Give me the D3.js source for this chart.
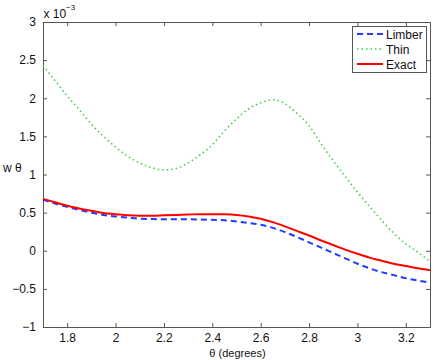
<!DOCTYPE html>
<html>
<head>
<meta charset="utf-8">
<script src="https://cdn.jsdelivr.net/npm/d3@7"></script>
<style>
  body { margin: 0; background: #fff; }
  text { font-family: "Liberation Sans", Arial, sans-serif; fill: #111; }
</style>
</head>
<body>
<svg id="chart" width="436" height="360"></svg>
<script>
// theta values (degrees) and w(theta) in units of 1e-3
const theta = [1.70,1.75,1.80,1.85,1.90,1.95,2.00,2.05,2.10,2.15,2.20,2.25,2.30,2.35,2.40,2.45,2.50,
               2.55,2.60,2.65,2.70,2.75,2.80,2.85,2.90,2.95,3.00,3.05,3.10,3.15,3.20,3.25,3.30];
const limber = [0.67,0.62,0.575,0.535,0.50,0.47,0.45,0.435,0.42,0.415,0.413,0.413,0.413,0.41,0.405,0.40,0.385,
                0.365,0.34,0.30,0.245,0.18,0.11,0.04,-0.03,-0.10,-0.17,-0.23,-0.28,-0.32,-0.36,-0.39,-0.42];
const thin = [2.43,2.23,2.03,1.85,1.66,1.50,1.36,1.24,1.15,1.09,1.06,1.08,1.15,1.26,1.39,1.57,1.73,
              1.86,1.94,1.98,1.93,1.80,1.64,1.40,1.18,0.97,0.77,0.58,0.40,0.23,0.09,-0.02,-0.14];
const exact = [0.68,0.635,0.59,0.555,0.525,0.495,0.48,0.465,0.46,0.46,0.465,0.47,0.475,0.48,0.48,0.478,0.47,
               0.45,0.42,0.375,0.32,0.26,0.20,0.135,0.075,0.015,-0.04,-0.09,-0.13,-0.17,-0.20,-0.23,-0.255];

const xTicks = [1.8, 2, 2.2, 2.4, 2.6, 2.8, 3, 3.2];
const yTicks = [-1, -0.5, 0, 0.5, 1, 1.5, 2, 2.5, 3];
const seriesNames = ["Limber", "Thin", "Exact"];

const svg = d3.select("#chart");
const m = {left: 43, right: 430, top: 22, bottom: 327};

const x = d3.scaleLinear().domain([1.7, 3.3]).range([m.left, m.right]);
const y = d3.scaleLinear().domain([-1, 3]).range([m.bottom, m.top]);

const axisColor = "#555";
const fmt = v => (v < 0 ? "\u2212" : "") + Math.abs(v);

// axes (MATLAB box style, ticks inward on all sides)
const bottomAxis = d3.axisBottom(x).tickValues(xTicks).tickSizeInner(-4).tickSizeOuter(0).tickPadding(6).tickFormat(fmt);
const leftAxis = d3.axisLeft(y).tickValues(yTicks).tickSizeInner(-4).tickSizeOuter(0).tickPadding(7).tickFormat(fmt);
const topAxis = d3.axisTop(x).tickValues(xTicks).tickSizeInner(-4).tickSizeOuter(0).tickFormat("");
const rightAxis = d3.axisRight(y).tickValues(yTicks).tickSizeInner(-4).tickSizeOuter(0).tickFormat("");

function styleAxis(g) {
  g.select(".domain").attr("stroke", axisColor);
  g.selectAll(".tick line").attr("stroke", axisColor);
  g.selectAll(".tick text").style("font-size", "12px").attr("fill", "#222");
}

svg.append("g").attr("transform", `translate(0,${m.bottom})`).call(bottomAxis).call(styleAxis);
svg.append("g").attr("transform", `translate(${m.left},0)`).call(leftAxis).call(styleAxis);
svg.append("g").attr("transform", `translate(0,${m.top})`).call(topAxis).call(styleAxis);
svg.append("g").attr("transform", `translate(${m.right},0)`).call(rightAxis).call(styleAxis);

// lines
const line = vals => d3.line()
  .x((d, i) => x(theta[i]))
  .y(d => y(d))
  .curve(d3.curveMonotoneX)(vals);

const styles = [
  {data: limber, color: "#1f3cff", width: 2, dash: "6,4"},
  {data: thin,   color: "#3ccc3c", width: 1.5, dash: "1.5,3"},
  {data: exact,  color: "#ff0000", width: 2, dash: null}
];

styles.forEach(s => {
  svg.append("path")
    .attr("d", line(s.data))
    .attr("fill", "none")
    .attr("stroke", s.color)
    .attr("stroke-width", s.width)
    .attr("stroke-dasharray", s.dash);
});

// legend
const lg = svg.append("g").attr("transform", "translate(352,26)");
lg.append("rect").attr("x", 0.5).attr("y", 0.5).attr("width", 74).attr("height", 46)
  .attr("fill", "#fff").attr("stroke", axisColor);
seriesNames.forEach((name, i) => {
  const yy = 8 + i * 15;
  lg.append("line").attr("x1", 5).attr("x2", 31).attr("y1", yy).attr("y2", yy)
    .attr("stroke", styles[i].color).attr("stroke-width", styles[i].width)
    .attr("stroke-dasharray", styles[i].dash);
  lg.append("text").attr("x", 34).attr("y", yy + 4.5).style("font-size", "12px").text(name);
});

// labels
svg.append("text").attr("x", m.left + 0.5).attr("y", 18).style("font-size", "12px").text("x 10");
svg.append("text").attr("x", 66).attr("y", 10).style("font-size", "8px").text("\u22123");

svg.append("text").attr("x", (m.left + m.right) / 2 + 1).attr("y", 357).attr("text-anchor", "middle")
  .style("font-size", "11px").text("\u03b8 (degrees)");

svg.append("text").attr("x", 3).attr("y", 172).style("font-size", "12px")
  .text("w \u03b8");
</script>
</body>
</html>
